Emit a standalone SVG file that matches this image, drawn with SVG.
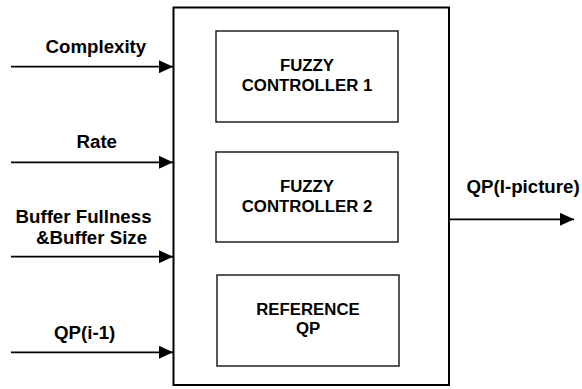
<svg xmlns="http://www.w3.org/2000/svg" width="582" height="389" viewBox="0 0 582 389">
<style>
.lbl{font-family:"Liberation Sans",Arial,sans-serif;font-weight:bold;font-size:18.7px;fill:#000}
.in{font-family:"Liberation Sans",Arial,sans-serif;font-weight:bold;font-size:16.8px;fill:#000;text-anchor:middle}
.box{fill:#fff;stroke:#111;stroke-width:1.4}
.edge{stroke:#000;stroke-width:1.8;fill:none}
</style>
<defs>
<marker id="ah" markerUnits="userSpaceOnUse" markerWidth="14" markerHeight="13" refX="14" refY="6.5" orient="auto">
<path d="M0,0 L14,6.5 L0,13 Z" fill="#000"/>
</marker>
</defs>
<rect width="582" height="389" fill="#fff"/>
<g id="main">
<rect x="173.5" y="7.5" width="275.5" height="377.5" fill="#fff" stroke="#000" stroke-width="2"/>
</g>
<g id="fc1">
<rect class="box" x="216" y="31" width="182" height="91"/>
<text class="in" x="307" y="71">FUZZY</text>
<text class="in" x="307" y="91">CONTROLLER 1</text>
</g>
<g id="fc2">
<rect class="box" x="216" y="152" width="182" height="90"/>
<text class="in" x="307" y="192">FUZZY</text>
<text class="in" x="307" y="212">CONTROLLER 2</text>
</g>
<g id="refqp">
<rect class="box" x="217" y="275" width="182" height="91"/>
<text class="in" x="308" y="315">REFERENCE</text>
<text class="in" x="308" y="334">QP</text>
</g>
<g id="labels">
<text class="lbl" x="45.5" y="53">Complexity</text>
<text class="lbl" x="76.5" y="147.5">Rate</text>
<text class="lbl" x="15.5" y="222.5">Buffer Fullness</text>
<text class="lbl" x="36" y="244">&amp;Buffer Size</text>
<text class="lbl" x="54" y="339">QP(i-1)</text>
<text class="lbl" x="466.5" y="192.5">QP(I-picture)</text>
</g>
<g id="connectors">
<line class="edge" x1="11" y1="66.7" x2="173" y2="66.7" marker-end="url(#ah)"/>
<line class="edge" x1="11" y1="162.3" x2="173" y2="162.3" marker-end="url(#ah)"/>
<line class="edge" x1="11" y1="256.7" x2="173" y2="256.7" marker-end="url(#ah)"/>
<line class="edge" x1="11" y1="352.3" x2="173" y2="352.3" marker-end="url(#ah)"/>
<line class="edge" x1="449" y1="219.3" x2="574" y2="219.3" marker-end="url(#ah)"/>
</g>
</svg>
